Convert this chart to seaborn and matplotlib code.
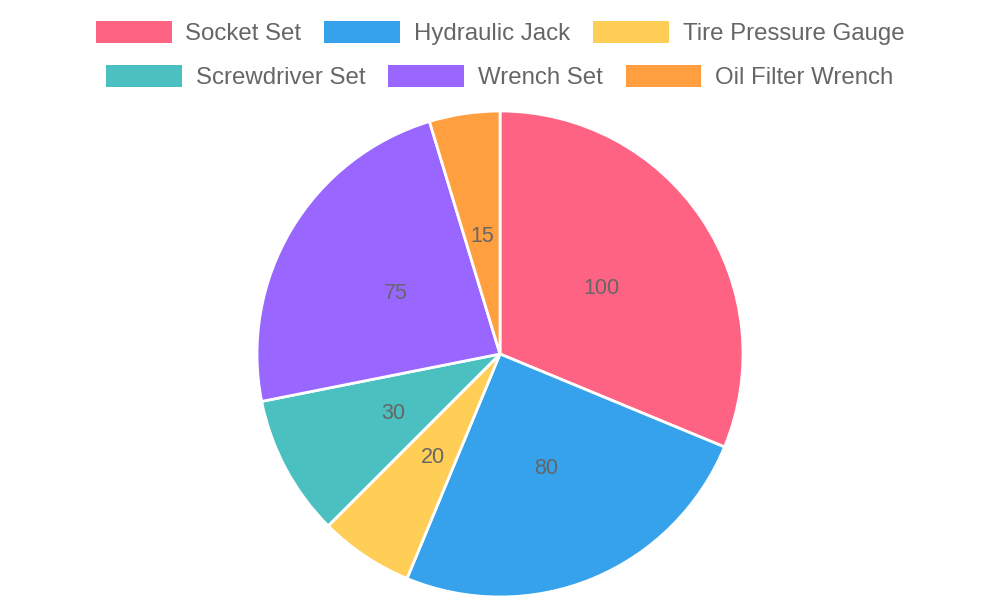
import matplotlib
matplotlib.use('Agg')
import matplotlib.pyplot as plt
import matplotlib.patches as mpatches
import numpy as np
import seaborn as sns

# data
tools = ['Socket Set', 'Hydraulic Jack', 'Tire Pressure Gauge',
         'Screwdriver Set', 'Wrench Set', 'Oil Filter Wrench']
counts = [100, 80, 20, 30, 75, 15]
colors = ['#FF6384', '#36A2EB', '#FFCE56', '#4BC0C0', '#9966FF', '#FF9F40']

sns.set_theme(style='white')
plt.rcParams['font.family'] = ['Liberation Sans', 'DejaVu Sans']

fig = plt.figure(figsize=(10, 6), dpi=100)
fig.patch.set_facecolor('white')

# pie centred at (500, 354) px, radius ~243 px
ax = fig.add_axes([0.257, 0.005, 0.486, 0.81])
ax.pie(counts, colors=colors, startangle=90, counterclock=False,
       radius=1.0, labels=None,
       wedgeprops=dict(edgecolor='white', linewidth=2))
for w, v in zip(ax.patches, counts):
    ang = np.deg2rad((w.theta1 + w.theta2) / 2)
    ax.text(0.5 * np.cos(ang), 0.5 * np.sin(ang) - 0.01, str(v),
            ha='center', va='center', fontsize=15.5, color='#666666')
ax.set_xlim(-1, 1)
ax.set_ylim(-1, 1)
ax.set_aspect('equal')
ax.axis('off')

handles = [mpatches.Patch(facecolor=c, edgecolor='white', linewidth=0) for c in colors]
fs = 17.3
common = dict(frameon=False, ncol=3, fontsize=fs, handlelength=3.15,
              handleheight=1.05, handletextpad=0.58, columnspacing=0.95,
              labelcolor='#666666', borderaxespad=0, borderpad=0)
fig.legend(handles[:3], tools[:3], loc='center',
           bbox_to_anchor=(0.5, 1 - 33 / 600), **common)
fig.legend(handles[3:], tools[3:], loc='center',
           bbox_to_anchor=(0.5, 1 - 77 / 600), **common)

plt.savefig('out.png', dpi=100, facecolor='white')
plt.close()
